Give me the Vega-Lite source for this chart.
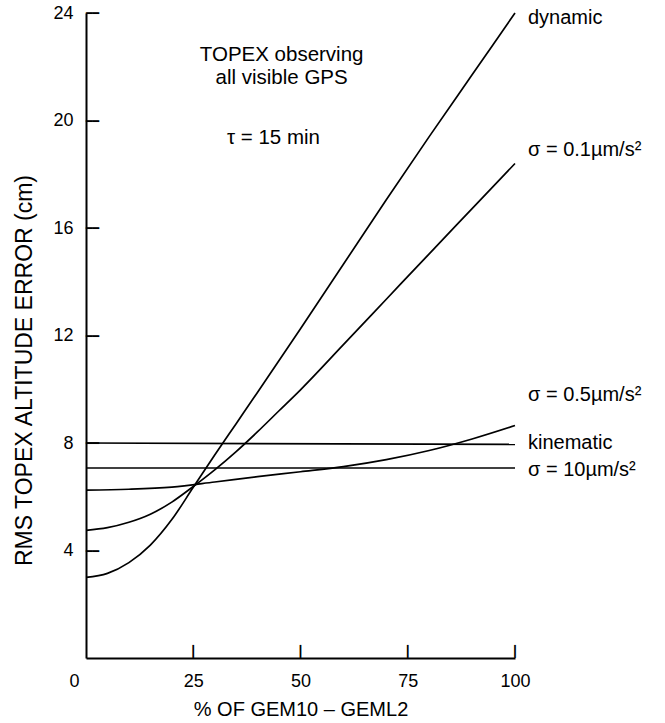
{
  "$schema": "https://vega.github.io/schema/vega-lite/v6.json",
  "autosize": "none",
  "width": 429,
  "height": 645,
  "padding": {"left": 86, "top": 13, "right": 150, "bottom": 65},
  "background": "white",
  "config": {
    "font": "Liberation Sans",
    "view": {"stroke": null},
    "axis": {"grid": false, "domainColor": "black", "domainWidth": 2, "tickColor": "black", "tickWidth": 1.6, "labelColor": "black", "titleColor": "black", "labelFont": "Liberation Sans", "titleFont": "Liberation Sans", "titleFontWeight": "normal"}
  },
  "layer": [
    {
      "data": {"values": [
        {"s": "dynamic", "x": 0, "y": 3.0}, {"s": "dynamic", "x": 5, "y": 3.15}, {"s": "dynamic", "x": 10, "y": 3.55}, {"s": "dynamic", "x": 15, "y": 4.2}, {"s": "dynamic", "x": 20, "y": 5.15}, {"s": "dynamic", "x": 25, "y": 6.35}, {"s": "dynamic", "x": 30, "y": 7.55}, {"s": "dynamic", "x": 35, "y": 8.72}, {"s": "dynamic", "x": 40, "y": 9.89}, {"s": "dynamic", "x": 50, "y": 12.25}, {"s": "dynamic", "x": 60, "y": 14.65}, {"s": "dynamic", "x": 70, "y": 17.05}, {"s": "dynamic", "x": 80, "y": 19.4}, {"s": "dynamic", "x": 90, "y": 21.7}, {"s": "dynamic", "x": 100, "y": 24.0},
        {"s": "s01", "x": 0, "y": 4.75}, {"s": "s01", "x": 5, "y": 4.85}, {"s": "s01", "x": 10, "y": 5.05}, {"s": "s01", "x": 15, "y": 5.35}, {"s": "s01", "x": 20, "y": 5.8}, {"s": "s01", "x": 25, "y": 6.38}, {"s": "s01", "x": 30, "y": 7.0}, {"s": "s01", "x": 35, "y": 7.68}, {"s": "s01", "x": 40, "y": 8.42}, {"s": "s01", "x": 45, "y": 9.2}, {"s": "s01", "x": 50, "y": 9.98}, {"s": "s01", "x": 60, "y": 11.66}, {"s": "s01", "x": 70, "y": 13.35}, {"s": "s01", "x": 80, "y": 15.04}, {"s": "s01", "x": 90, "y": 16.72}, {"s": "s01", "x": 100, "y": 18.4},
        {"s": "s05", "x": 0, "y": 6.25}, {"s": "s05", "x": 10, "y": 6.28}, {"s": "s05", "x": 20, "y": 6.36}, {"s": "s05", "x": 30, "y": 6.55}, {"s": "s05", "x": 40, "y": 6.75}, {"s": "s05", "x": 50, "y": 6.93}, {"s": "s05", "x": 60, "y": 7.12}, {"s": "s05", "x": 70, "y": 7.38}, {"s": "s05", "x": 80, "y": 7.72}, {"s": "s05", "x": 90, "y": 8.15}, {"s": "s05", "x": 100, "y": 8.65},
        {"s": "kin", "x": 0, "y": 8.0}, {"s": "kin", "x": 100, "y": 7.95},
        {"s": "s10", "x": 0, "y": 7.07}, {"s": "s10", "x": 100, "y": 7.07}
      ]},
      "mark": {"type": "line", "color": "black", "strokeWidth": 1.7, "interpolate": "monotone", "clip": false},
      "encoding": {
        "x": {"field": "x", "type": "quantitative", "scale": {"domain": [0, 100], "nice": false},
          "axis": {"values": [0, 25, 50, 75, 100], "ticks": false, "labelPadding": 14, "labelFontSize": 18, "labelBaseline": "top",
            "labelOffset": {"condition": {"test": "datum.value === 0", "value": -12}, "value": 0},
            "title": "% OF GEM10 – GEML2", "titleFontSize": 20, "titleBaseline": "alphabetic", "titleY": 57,
            "labelFlush": false}},
        "y": {"field": "y", "type": "quantitative", "scale": {"domain": [0, 24], "nice": false},
          "axis": {"values": [4, 8, 12, 16, 20, 24], "ticks": false, "labelPadding": 13, "labelFontSize": 18,
            "title": "RMS TOPEX ALTITUDE ERROR  (cm)", "titleFontSize": 23, "titleBaseline": "middle", "titleX": -62, "titleY": 357}},
        "detail": {"field": "s"}
      }
    },
    {
      "data": {"values": [
        {"x": 100, "y": 23.8, "t": "dynamic"},
        {"x": 100, "y": 18.9, "t": "σ = 0.1µm/s²"},
        {"x": 100, "y": 9.8, "t": "σ = 0.5µm/s²"},
        {"x": 100, "y": 8.0, "t": "kinematic"},
        {"x": 100, "y": 7.0, "t": "σ = 10µm/s²"}
      ]},
      "mark": {"type": "text", "align": "left", "baseline": "middle", "dx": 13, "fontSize": 20, "color": "black", "clip": false},
      "encoding": {
        "x": {"field": "x", "type": "quantitative"},
        "y": {"field": "y", "type": "quantitative"},
        "text": {"field": "t"}
      }
    },
    {
      "data": {"values": [
        {"x": 45.6, "y": 22.45, "t": "TOPEX observing"},
        {"x": 45.6, "y": 21.6, "t": "all visible GPS"},
        {"x": 43.7, "y": 19.35, "t": "τ = 15 min"}
      ]},
      "mark": {"type": "text", "align": "center", "baseline": "middle", "fontSize": 20.5, "color": "black"},
      "encoding": {
        "x": {"field": "x", "type": "quantitative"},
        "y": {"field": "y", "type": "quantitative"},
        "text": {"field": "t"}
      }
    },
    {
      "data": {"values": [{"x": 25, "t": "┃"}, {"x": 50, "t": "┃"}, {"x": 75, "t": "┃"}, {"x": 100, "t": "┃"}]},
      "mark": {"type": "text", "font": "DejaVu Sans Mono", "fontSize": 11, "align": "center", "baseline": "alphabetic", "dy": -3, "color": "black", "clip": false},
      "encoding": {
        "x": {"field": "x", "type": "quantitative"},
        "y": {"datum": 0, "type": "quantitative"},
        "text": {"field": "t"}
      }
    },
    {
      "data": {"values": [{"y": 4, "t": "━━"}, {"y": 8, "t": "━━"}, {"y": 12, "t": "━━"}, {"y": 16, "t": "━━"}, {"y": 20, "t": "━━"}, {"y": 24, "t": "━━"}]},
      "mark": {"type": "text", "font": "DejaVu Sans Mono", "fontSize": 11, "align": "left", "baseline": "alphabetic", "dy": 4, "color": "black", "clip": false},
      "encoding": {
        "y": {"field": "y", "type": "quantitative"},
        "x": {"datum": 0, "type": "quantitative"},
        "text": {"field": "t"}
      }
    }
  ]
}
